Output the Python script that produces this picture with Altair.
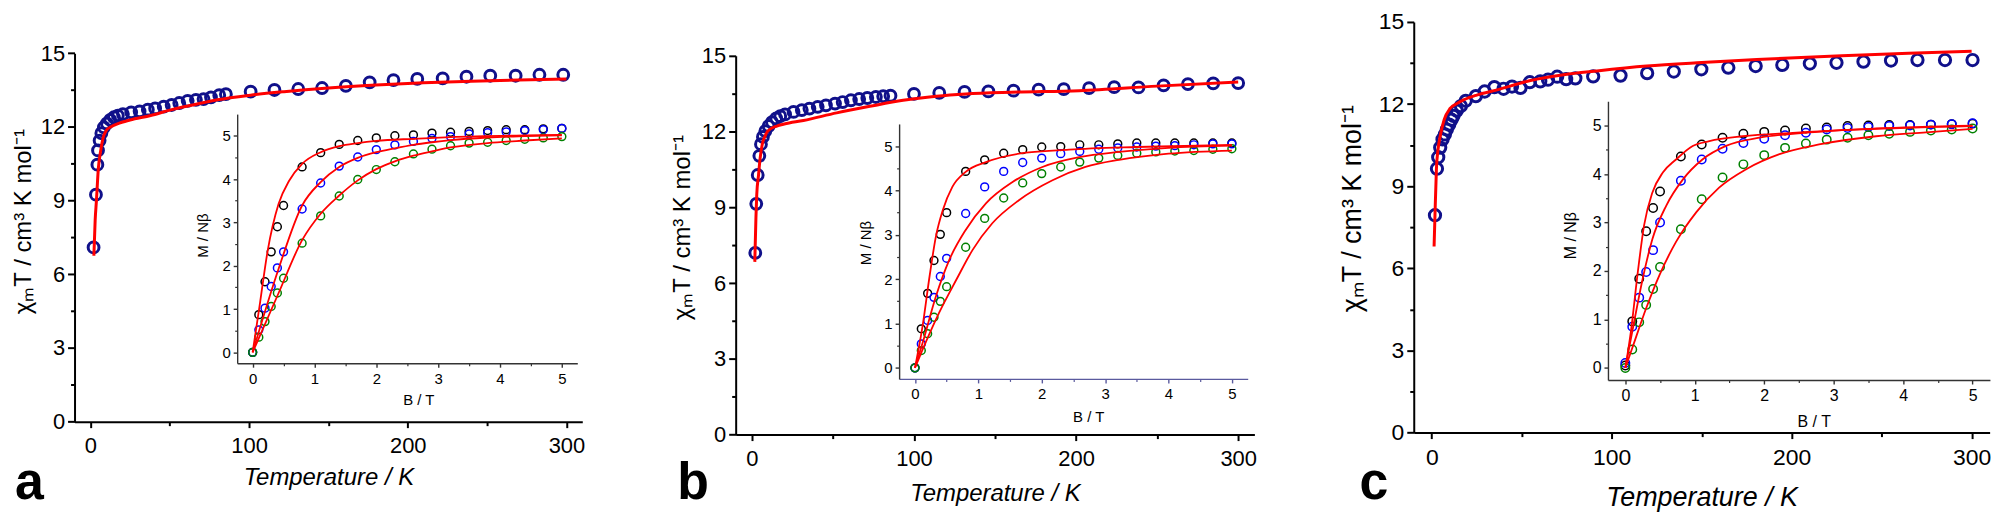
import altair as alt
import pandas as pd

FONT = "Liberation Sans"
W, H = 1997, 507

# ---------------- data: main chi_M T vs T ----------------
Ta = [2.0, 3.5, 4.4, 4.8, 5.8, 6.9, 8.5, 10.4, 12.5, 14.8, 17.3, 20.5, 25.7, 31, 36.2, 40.8, 46.2, 51.2,
      56, 61.3, 66.5, 71.3, 76, 81.2, 85.4, 101, 116, 131, 146, 161, 176, 191, 206, 222, 237, 252, 268, 283, 298]
chiTa = [7.09, 9.24, 10.46, 11.04, 11.44, 11.74, 11.98, 12.14, 12.28, 12.39, 12.46, 12.52, 12.59, 12.63, 12.70,
         12.75, 12.82, 12.89, 12.97, 13.06, 13.10, 13.13, 13.20, 13.29, 13.33, 13.43, 13.50, 13.54, 13.58, 13.67,
         13.81, 13.90, 13.95, 13.97, 14.04, 14.08, 14.08, 14.12, 14.12]
Ta_fit = [2.2, 3, 3.8, 5, 6.5, 8, 10, 13, 17, 25, 38, 50, 59, 70, 80, 101, 122, 150, 180, 210, 240, 270, 300]
chiTa_fit = [6.75, 8.2, 9.0, 10.3, 11.04, 11.55, 11.85, 12.0, 12.12, 12.28, 12.46, 12.68, 12.82, 12.97, 13.10,
             13.29, 13.43, 13.58, 13.70, 13.79, 13.86, 13.91, 13.95]

Tb = [2.1, 2.7, 3.6, 4.6, 5.6, 6.8, 8.3, 10.3, 12.4, 15, 17.5, 20.5, 25.7, 30.8, 35.5, 40.6, 45.7, 51.3, 56,
      61.1, 66.2, 71.2, 76.5, 81, 85.5, 100, 115.6, 131.2, 145.9, 161.4, 176.9, 192.4, 208, 223.5, 238.5, 254,
      269, 284.6, 300]
chiTb = [7.2, 9.14, 10.28, 11.04, 11.50, 11.79, 12.02, 12.22, 12.37, 12.52, 12.61, 12.68, 12.78, 12.85, 12.91,
         12.98, 13.04, 13.11, 13.17, 13.24, 13.29, 13.33, 13.37, 13.40, 13.42, 13.49, 13.53, 13.57, 13.59, 13.62,
         13.66, 13.68, 13.72, 13.76, 13.75, 13.83, 13.88, 13.91, 13.92]
Tb_fit = [1.8, 2.5, 3, 4.1, 5, 6.4, 8, 9.8, 15.4, 20, 31.8, 52.3, 72.8, 93.3, 113.8, 132, 160, 202, 250, 300]
chiTb_fit = [6.84, 8.6, 9.5, 10.28, 10.9, 11.5, 11.8, 12.02, 12.22, 12.3, 12.44, 12.74, 13.0, 13.24, 13.40,
             13.49, 13.56, 13.62, 13.8, 13.96]

Tc = [1.8, 2.9, 3.6, 4.7, 6.0, 7.3, 8.4, 9.7, 11, 12.1, 13.9, 16.2, 18.9, 24.5, 29.4, 34.8, 39.9, 44.6, 49.3,
      54.5, 60.3, 64.6, 69.7, 74.7, 79.8, 89.7, 104.9, 119.7, 134.5, 149.8, 164.8, 180, 194.8, 210.1, 224.9,
      239.9, 255.2, 269.9, 285.2, 300.5]
chiTc = [7.94, 9.64, 10.06, 10.41, 10.71, 10.89, 11.07, 11.25, 11.43, 11.57, 11.76, 11.93, 12.12, 12.29, 12.46,
         12.62, 12.56, 12.64, 12.59, 12.80, 12.83, 12.89, 13.0, 12.91, 12.94, 13.01, 13.04, 13.13, 13.19, 13.27,
         13.33, 13.39, 13.43, 13.48, 13.51, 13.55, 13.59, 13.61, 13.61, 13.61]
Tc_fit = [1.3, 1.8, 2.6, 3.5, 4.7, 6.9, 10.2, 14, 18, 25, 36.4, 54.9, 73.3, 91.8, 119.4, 150, 180.7, 227.8, 265, 300]
chiTc_fit = [6.8, 7.94, 9.64, 10.35, 10.83, 11.43, 11.84, 12.02, 12.16, 12.33, 12.52, 12.86, 13.07, 13.21,
             13.39, 13.52, 13.63, 13.77, 13.86, 13.93]

# ---------------- data: insets M/Nbeta vs B ----------------
B = [0, 0.1, 0.2, 0.3, 0.4, 0.5, 0.8, 1.1, 1.4, 1.7, 2.0, 2.3, 2.6, 2.9, 3.2, 3.5, 3.8, 4.1, 4.4, 4.7, 5.0]

Ma_k = [0, 0.87, 1.63, 2.32, 2.90, 3.39, 4.28, 4.61, 4.80, 4.89, 4.95, 5.00, 5.02, 5.06, 5.08, 5.10, 5.12, 5.14, 5.14, 5.16, 5.17]
Ma_b = [0, 0.52, 1.02, 1.52, 1.95, 2.32, 3.31, 3.91, 4.30, 4.51, 4.68, 4.79, 4.87, 4.94, 4.98, 5.04, 5.07, 5.09, 5.12, 5.14, 5.17]
Ma_g = [0, 0.35, 0.71, 1.06, 1.37, 1.71, 2.52, 3.15, 3.61, 3.99, 4.22, 4.40, 4.58, 4.69, 4.77, 4.83, 4.85, 4.89, 4.92, 4.95, 4.98]
Ba_fit_k = [0, 0.12, 0.24, 0.42, 0.59, 0.8, 1.1, 1.4, 1.7, 2.0, 2.6, 3.2, 4.4, 5.0]
Ma_fit_k = [0, 1.15, 2.32, 3.43, 3.96, 4.35, 4.62, 4.76, 4.83, 4.88, 4.93, 4.97, 5.01, 5.02]
Ba_fit_b = [0, 0.42, 0.8, 1.1, 1.4, 1.7, 2.0, 2.3, 2.6, 2.9, 3.2, 3.8, 4.4, 5.0]
Ma_fit_b = [0, 1.93, 3.39, 3.93, 4.28, 4.49, 4.62, 4.71, 4.79, 4.85, 4.90, 4.96, 4.99, 5.01]
Ba_fit_g = [0, 0.42, 0.8, 1.1, 1.4, 1.7, 2.0, 2.3, 2.6, 2.9, 3.2, 3.8, 4.4, 5.0]
Ma_fit_g = [0, 1.37, 2.59, 3.2, 3.62, 3.97, 4.23, 4.41, 4.54, 4.64, 4.73, 4.83, 4.89, 4.94]

Mb_k = [0, 0.88, 1.68, 2.42, 3.01, 3.50, 4.43, 4.69, 4.84, 4.92, 4.98, 4.99, 5.03, 5.03, 5.05, 5.07, 5.07, 5.07, 5.07, 5.07, 5.07]
Mb_b = [0, 0.54, 1.07, 1.59, 2.06, 2.47, 3.48, 4.08, 4.43, 4.63, 4.73, 4.83, 4.88, 4.93, 4.96, 4.98, 5.0, 5.01, 5.03, 5.05, 5.05]
Mb_g = [0, 0.39, 0.77, 1.14, 1.50, 1.83, 2.72, 3.37, 3.83, 4.17, 4.38, 4.53, 4.64, 4.73, 4.79, 4.84, 4.87, 4.89, 4.90, 4.93, 4.94]
Bb_fit_k = [0, 0.12, 0.23, 0.33, 0.44, 0.59, 0.8, 1.12, 1.64, 2.43, 3.5, 5.0]
Mb_fit_k = [0, 0.94, 2.06, 2.96, 3.56, 4.08, 4.42, 4.64, 4.83, 4.92, 4.98, 5.03]
Bb_fit_b = [0, 0.12, 0.33, 0.54, 0.8, 1.12, 1.54, 2.01, 2.59, 3.22, 4.0, 5.0]
Mb_fit_b = [0, 0.56, 1.61, 2.43, 3.11, 3.71, 4.19, 4.53, 4.75, 4.87, 4.96, 5.01]
Bb_fit_g = [0, 0.12, 0.38, 0.65, 0.91, 1.22, 1.64, 2.17, 2.69, 3.22, 4.0, 5.0]
Mb_fit_g = [0, 0.41, 1.24, 1.98, 2.66, 3.26, 3.78, 4.23, 4.53, 4.69, 4.83, 4.90]

Mc_k = [0.05, 0.96, 1.84, 2.82, 3.30, 3.64, 4.36, 4.61, 4.75, 4.83, 4.87, 4.90, 4.94, 4.96, 4.99, 5.0, 5.01, 5.01, 5.02, 5.03, 5.04]
Mc_b = [0.1, 0.85, 1.45, 1.98, 2.43, 3.0, 3.86, 4.30, 4.52, 4.64, 4.73, 4.80, 4.85, 4.92, 4.95, 4.97, 4.99, 5.0, 5.02, 5.03, 5.05]
Mc_g = [0, 0.38, 0.94, 1.30, 1.63, 2.08, 2.86, 3.48, 3.93, 4.20, 4.39, 4.54, 4.63, 4.71, 4.75, 4.80, 4.83, 4.87, 4.90, 4.92, 4.94]
Bc_fit_k = [0, 0.08, 0.18, 0.27, 0.39, 0.54, 0.73, 0.97, 1.21, 1.69, 2.41, 3.37, 5.0]
Mc_fit_k = [0, 0.75, 1.98, 2.94, 3.62, 4.03, 4.30, 4.58, 4.68, 4.78, 4.85, 4.92, 4.99]
Bc_fit_b = [0, 0.1, 0.25, 0.39, 0.59, 0.83, 1.11, 1.45, 1.93, 2.65, 3.61, 5.0]
Mc_fit_b = [0, 0.75, 1.84, 2.66, 3.35, 3.89, 4.30, 4.58, 4.75, 4.86, 4.94, 5.0]
Bc_fit_g = [0, 0.1, 0.3, 0.49, 0.73, 1.02, 1.35, 1.74, 2.22, 2.79, 3.61, 4.33, 5.0]
Mc_fit_g = [0, 0.41, 1.23, 1.91, 2.60, 3.21, 3.72, 4.10, 4.41, 4.61, 4.78, 4.86, 4.93]

# tick values
main_y_ticks = [0, 3, 6, 9, 12, 15]
main_y_minor = [1.5, 4.5, 7.5, 10.5, 13.5]
main_x_ticks = [0, 100, 200, 300]
main_x_minor = [50, 150, 250]
ins_ticks = [0, 1, 2, 3, 4, 5]
ins_minor = [0.5, 1.5, 2.5, 3.5, 4.5]

Y_TITLE = "χₘT / cm³ K mol⁻¹"
X_TITLE = "Temperature / K"
IY_TITLE = "M / Nβ"
IX_TITLE = "B / T"

SERIES = ["k", "b", "g"]
SERIES_COLORS = ["#000000", "#0000ff", "#008000"]

# layout (pixel placement of each scale, in chart coordinates)
panels = [
    dict(letter="a", T=Ta, chi=chiTa, Tf=Ta_fit, chif=chiTa_fit,
         M=[Ma_k, Ma_b, Ma_g], fits=[(Ba_fit_k, Ma_fit_k), (Ba_fit_b, Ma_fit_b), (Ba_fit_g, Ma_fit_g)],
         mx=[66.8, 576.6], my=[414.3, 44.3], ix=[230.1, 571.6], iy=[355.6, 105.5],
         lf=22, tf=24, ilf=15, itf=15, msize=118, isize=62,
         ytx=-44.0, yty=213, xty=62.7, iytx=-30.1, iyty=227, ixtx=412, ixty=41.4,
         lab=(7, 492), ixcol="#333333"),
    dict(letter="b", T=Tb, chi=chiTb, Tf=Tb_fit, chif=chiTb_fit,
         M=[Mb_k, Mb_b, Mb_g], fits=[(Bb_fit_k, Mb_fit_k), (Bb_fit_b, Mb_fit_b), (Bb_fit_g, Mb_fit_g)],
         mx=[730.6, 1251.4], my=[427.3, 47.0], ix=[894.7, 1244.7], iy=[371.4, 115.4],
         lf=22, tf=24, ilf=15, itf=15, msize=118, isize=62,
         ytx=-46.6, yty=219, xty=65.7, iytx=-28.7, iyty=234.5, ixtx=1084.5, ixty=42.3,
         lab=(672, 492), ixcol="#5a5a9e"),
    dict(letter="c", T=Tc, chi=chiTc, Tf=Tc_fit, chif=chiTc_fit,
         M=[Mc_k, Mc_b, Mc_g], fits=[(Bc_fit_k, Mc_fit_k), (Bc_fit_b, Mc_fit_b), (Bc_fit_g, Mc_fit_g)],
         mx=[1411.4, 1989.6], my=[425.3, 13.0], ix=[1606.4, 1989.9], iy=[372.5, 92.7],
         lf=23, tf=27, ilf=16, itf=16, msize=128, isize=72,
         ytx=-53.4, yty=200, xty=72.7, iytx=-32.4, iyty=227, ixtx=1813, ixty=46.5,
         lab=(1357, 492), ixcol="#333333"),
]


def scale(domain, rng):
    return alt.Scale(domain=domain, range=rng, nice=False, zero=False)


def axis(orient, pos, values, size, font_size, title=None, minor=False, color="black", width=2.0, **kw):
    off = -pos if orient == "left" else pos - H
    common = dict(orient=orient, offset=off, values=values, grid=False, tickSize=size,
                  tickColor=color, tickWidth=width, domainColor=color, domainWidth=width)
    if minor:
        return alt.Axis(labels=False, domain=False, title=None, **common)
    return alt.Axis(format="d", labelFont=FONT, labelFontSize=font_size, labelColor="black",
                    labelFlush=False, labelOverlap=False,
                    title=title, titleFont=FONT, titleColor="black", titleFontWeight="normal",
                    **common, **kw)


color_enc = alt.Color("s:N", scale=alt.Scale(domain=SERIES, range=SERIES_COLORS), legend=None)

layers = []
for p in panels:
    main_df = pd.DataFrame({"T": p["T"], "chiT": p["chi"]})
    fit_df = pd.DataFrame({"T": p["Tf"], "chiT": p["chif"]})
    xs = scale([-10, 310], p["mx"])
    ys = scale([0, 15], p["my"])

    pts = alt.Chart(main_df).mark_point(shape="circle", filled=False, size=p["msize"], strokeWidth=3,
                                         color="#10108a", opacity=1).encode(
        x=alt.X("T:Q", scale=xs,
                axis=axis("bottom", p["my"][0], main_x_ticks, 6, p["lf"], X_TITLE,
                          labelPadding=8, titleFontSize=p["tf"], titleFontStyle="italic",
                          titleBaseline="alphabetic", titleY=p["xty"])),
        y=alt.Y("chiT:Q", scale=ys,
                axis=axis("left", p["mx"][0], main_y_ticks, 7, p["lf"], Y_TITLE,
                          labelPadding=3, titleFontSize=p["tf"], titleAngle=270,
                          titleBaseline="alphabetic", titleAlign="center",
                          titleX=p["ytx"], titleY=p["yty"])),
    )
    minor = alt.Chart(main_df).mark_point(opacity=0).encode(
        x=alt.X("T:Q", scale=xs, axis=axis("bottom", p["my"][0], main_x_minor, 4, 10, minor=True)),
        y=alt.Y("chiT:Q", scale=ys, axis=axis("left", p["mx"][0], main_y_minor, 4, 10, minor=True)),
    )
    line = alt.Chart(fit_df).mark_line(color="#ff0000", strokeWidth=3, interpolate="monotone").encode(
        x=alt.X("T:Q", scale=xs, axis=None),
        y=alt.Y("chiT:Q", scale=ys, axis=None),
    )

    rows = []
    for s, m in zip(SERIES, p["M"]):
        for b, v in zip(B, m):
            rows.append({"B": b, "M": v, "s": s})
    ins_df = pd.DataFrame(rows)
    frows = []
    for s, (bf, mf) in zip(SERIES, p["fits"]):
        for b, v in zip(bf, mf):
            frows.append({"B": b, "M": v, "s": s})
    insf_df = pd.DataFrame(frows)

    ixs = scale([-0.25, 5.25], p["ix"])
    iys = scale([-0.25, 5.5], p["iy"])

    ipts = alt.Chart(ins_df).mark_point(shape="circle", filled=False, size=p["isize"], strokeWidth=1.5,
                                         opacity=1).encode(
        x=alt.X("B:Q", scale=ixs,
                axis=axis("bottom", p["iy"][0], ins_ticks, 4, p["ilf"], IX_TITLE, color=p["ixcol"],
                          width=1.4, labelPadding=4, titleFontSize=p["itf"],
                          titleBaseline="alphabetic", titleX=p["ixtx"], titleY=p["ixty"])),
        y=alt.Y("M:Q", scale=iys,
                axis=axis("left", p["ix"][0], ins_ticks, 4, p["ilf"], IY_TITLE, color="#333333",
                          width=1.4, labelPadding=3, titleFontSize=p["itf"], titleAngle=270,
                          titleBaseline="alphabetic", titleAlign="center",
                          titleX=p["iytx"], titleY=p["iyty"])),
        color=color_enc,
    )
    iminor = alt.Chart(ins_df).mark_point(opacity=0).encode(
        x=alt.X("B:Q", scale=ixs, axis=axis("bottom", p["iy"][0], ins_minor, 2.5, 10, minor=True,
                                              color=p["ixcol"], width=1.2)),
        y=alt.Y("M:Q", scale=iys, axis=axis("left", p["ix"][0], ins_minor, 2.5, 10, minor=True,
                                             color="#333333", width=1.2)),
    )
    ilines = alt.Chart(insf_df).mark_line(color="#ff0000", strokeWidth=1.8, interpolate="monotone").encode(
        x=alt.X("B:Q", scale=ixs, axis=None),
        y=alt.Y("M:Q", scale=iys, axis=None),
        detail="s:N",
    )

    lab_df = pd.DataFrame({"label": [p["letter"]]})
    lab = alt.Chart(lab_df).mark_text(font=FONT, fontSize=52, fontWeight="bold", align="left",
                                      baseline="alphabetic", color="black").encode(
        text="label:N", x=alt.value(p["lab"][0]), y=alt.value(p["lab"][1]))

    layers += [pts, minor, line, ipts, iminor, ilines, lab]

chart = alt.layer(*layers).resolve_scale(
    x="independent", y="independent"
).resolve_axis(
    x="independent", y="independent"
).properties(
    width=W, height=H, padding=0, autosize=alt.AutoSizeParams(type="none"),
    background="white"
).configure_view(stroke=None)

chart.save("out.html", embed_options={"renderer": "svg", "actions": False})
